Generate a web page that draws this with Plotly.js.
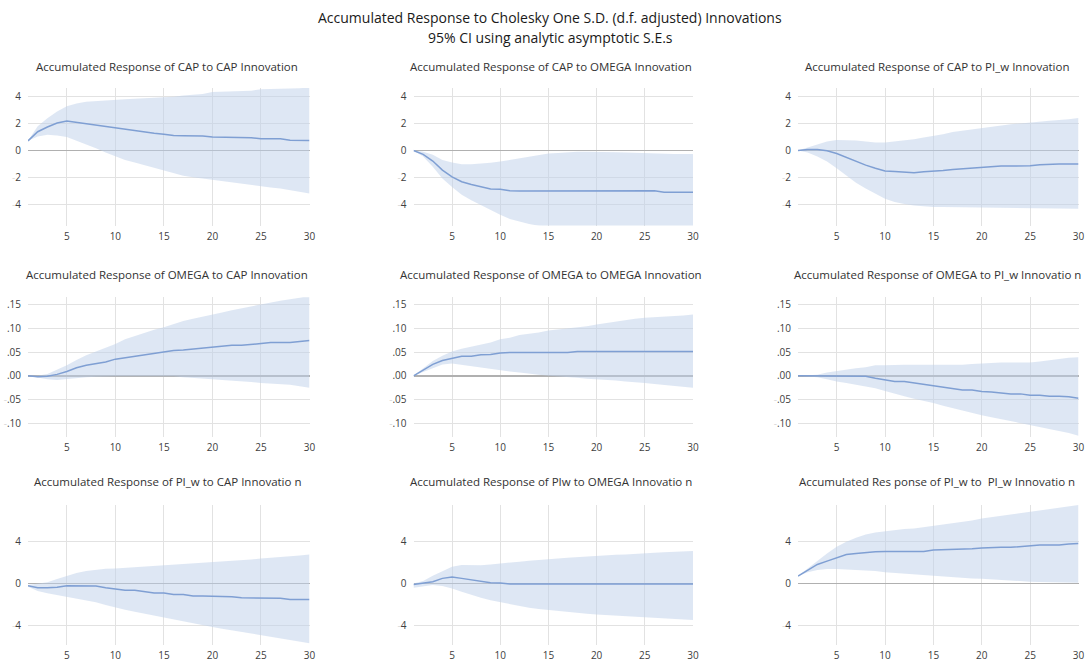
<!DOCTYPE html>
<html>
<head>
<meta charset="utf-8">
<script src="https://cdn.plot.ly/plotly-3.0.1.min.js"></script>
<style>html,body{margin:0;padding:0;background:#fff;}#chart{width:1089px;height:665px;}</style>
</head>
<body>
<div id="chart"></div>
<script>
// Periods
const periods = Array.from({length: 30}, (_, i) => i + 1);

// Panel titles
const panelTitles = [
  "Accumulated Response of CAP to CAP Innovation",
  "Accumulated Response of CAP to OMEGA Innovation",
  "Accumulated Response of CAP to PI_w Innovation",
  "Accumulated Response of OMEGA to CAP Innovation",
  "Accumulated Response of OMEGA to OMEGA Innovation",
  "Accumulated Response of OMEGA to PI_w Innovatio n",
  "Accumulated Response of PI_w to CAP Innovatio n",
  "Accumulated Response of PIw to OMEGA Innovatio n",
  "Accumulated Res ponse of PI_w to  PI_w Innovatio n"
];

// CAP to CAP
const capCap = [0.72,1.4,1.75,2.05,2.2,2.1,2.0,1.9,1.8,1.68,1.55,1.47,1.38,1.28,1.22,1.12,1.1,1.1,1.08,1.0,1.0,1.0,0.98,0.95,0.88,0.88,0.87,0.77,0.77,0.75];
const capCapHi = [0.72,1.8,2.4,2.9,3.3,3.5,3.62,3.68,3.72,3.8,3.82,3.85,3.88,3.9,3.98,4.0,4.1,4.15,4.2,4.35,4.37,4.4,4.42,4.45,4.55,4.56,4.62,4.62,4.63,4.7];
const capCapLo = [0.72,1.05,1.18,1.12,1.0,0.72,0.48,0.18,-0.15,-0.45,-0.7,-0.88,-1.08,-1.3,-1.5,-1.7,-1.88,-1.98,-2.08,-2.2,-2.3,-2.38,-2.48,-2.58,-2.7,-2.75,-2.82,-2.95,-3.05,-3.2];

// CAP to OMEGA
const capOmega = [0,-0.28,-0.78,-1.45,-1.95,-2.32,-2.52,-2.68,-2.85,-2.88,-2.98,-3.0,-3.0,-3.0,-3.0,-3.0,-3.0,-3.0,-3.0,-3.0,-3.0,-3.0,-3.0,-3.0,-3.0,-2.98,-3.1,-3.1,-3.1,-3.1];
const capOmegaHi = [0,-0.08,-0.32,-0.7,-0.88,-1.02,-1.02,-0.98,-0.9,-0.82,-0.7,-0.58,-0.45,-0.32,-0.22,-0.18,-0.12,-0.08,-0.08,-0.08,-0.1,-0.12,-0.15,-0.18,-0.2,-0.22,-0.25,-0.25,-0.25,-0.25];
const capOmegaLo = [0,-0.45,-1.2,-2.08,-2.7,-3.28,-3.7,-4.08,-4.45,-4.78,-5.08,-5.28,-5.45,-5.58,-5.68,-5.72,-5.75,-5.75,-5.75,-5.75,-5.75,-5.75,-5.75,-5.75,-5.75,-5.75,-5.75,-5.75,-5.75,-5.75];

// CAP to PI_w
const capPiw = [0,0.08,0.08,-0.02,-0.22,-0.52,-0.82,-1.08,-1.32,-1.52,-1.55,-1.62,-1.65,-1.58,-1.55,-1.48,-1.4,-1.35,-1.3,-1.22,-1.2,-1.15,-1.15,-1.15,-1.12,-1.05,-1.0,-1.0,-1.0,-1.0];
const capPiwHi = [0,0.22,0.48,0.68,0.78,0.78,0.75,0.68,0.6,0.6,0.68,0.75,0.85,0.98,1.08,1.22,1.38,1.48,1.58,1.68,1.78,1.88,1.95,2.02,2.1,2.18,2.22,2.28,2.32,2.42];
const capPiwLo = [0,-0.15,-0.45,-0.82,-1.32,-1.88,-2.4,-2.82,-3.2,-3.58,-3.82,-3.98,-4.08,-4.15,-4.2,-4.2,-4.21,-4.22,-4.23,-4.24,-4.25,-4.25,-4.26,-4.27,-4.28,-4.28,-4.3,-4.3,-4.31,-4.32];

// OMEGA to CAP
const omegaCap = [0,-0.002,-0.001,0.003,0.009,0.017,0.022,0.025,0.029,0.035,0.038,0.041,0.043,0.046,0.05,0.053,0.054,0.056,0.057,0.059,0.062,0.064,0.064,0.066,0.067,0.07,0.07,0.07,0.072,0.074];
const omegaCapHi = [0,0,0.004,0.013,0.022,0.033,0.043,0.051,0.059,0.067,0.077,0.084,0.091,0.097,0.102,0.109,0.115,0.12,0.124,0.129,0.133,0.138,0.142,0.146,0.151,0.155,0.158,0.161,0.164,0.169];
const omegaCapLo = [0,-0.004,-0.007,-0.009,-0.007,-0.004,-0.003,-0.002,-0.001,-0.001,-0.001,-0.001,-0.001,-0.001,-0.001,-0.001,-0.003,-0.004,-0.006,-0.007,-0.009,-0.01,-0.012,-0.013,-0.015,-0.016,-0.017,-0.019,-0.022,-0.025];

// OMEGA to OMEGA
const omegaOmega = [0,0.012,0.024,0.032,0.037,0.041,0.041,0.044,0.045,0.048,0.049,0.049,0.049,0.049,0.049,0.049,0.049,0.051,0.051,0.051,0.051,0.051,0.051,0.051,0.051,0.051,0.051,0.051,0.051,0.051];
const omegaOmegaHi = [0,0.015,0.031,0.042,0.051,0.057,0.061,0.066,0.07,0.077,0.08,0.086,0.088,0.091,0.095,0.097,0.099,0.101,0.104,0.108,0.111,0.115,0.117,0.12,0.122,0.123,0.125,0.126,0.127,0.129];
const omegaOmegaLo = [0,0.008,0.017,0.024,0.026,0.023,0.02,0.017,0.014,0.012,0.009,0.007,0.004,0.002,0,-0.001,-0.003,-0.004,-0.006,-0.007,-0.009,-0.01,-0.012,-0.013,-0.015,-0.017,-0.019,-0.021,-0.023,-0.025];

// OMEGA to PI_w
const omegaPiw = [0,0,0,-0.001,-0.001,-0.001,-0.001,-0.001,-0.005,-0.008,-0.012,-0.012,-0.015,-0.017,-0.021,-0.024,-0.027,-0.03,-0.03,-0.033,-0.034,-0.036,-0.038,-0.038,-0.041,-0.041,-0.043,-0.043,-0.044,-0.047];
const omegaPiwHi = [0,0.001,0.002,0.007,0.01,0.014,0.016,0.018,0.022,0.022,0.023,0.023,0.023,0.023,0.023,0.023,0.023,0.023,0.025,0.026,0.028,0.028,0.028,0.028,0.028,0.03,0.033,0.036,0.038,0.039];
const omegaPiwLo = [0,-0.001,-0.003,-0.007,-0.012,-0.015,-0.019,-0.022,-0.026,-0.032,-0.038,-0.043,-0.048,-0.052,-0.057,-0.063,-0.068,-0.074,-0.079,-0.083,-0.087,-0.091,-0.096,-0.099,-0.103,-0.107,-0.112,-0.116,-0.12,-0.126];

// PI_w to CAP
const piwCap = [-0.22,-0.42,-0.42,-0.38,-0.22,-0.22,-0.26,-0.26,-0.42,-0.54,-0.67,-0.67,-0.8,-0.93,-0.93,-1.06,-1.06,-1.22,-1.22,-1.22,-1.22,-1.28,-1.38,-1.38,-1.38,-1.4,-1.44,-1.54,-1.54,-1.54];
const piwCapHi = [-0.16,-0.03,0.1,0.42,0.74,0.99,1.18,1.31,1.41,1.44,1.5,1.57,1.6,1.66,1.7,1.76,1.82,1.89,1.95,2.02,2.08,2.18,2.24,2.3,2.4,2.46,2.56,2.62,2.69,2.78];
const piwCapLo = [-0.32,-0.74,-0.96,-1.12,-1.28,-1.44,-1.6,-1.82,-2.08,-2.34,-2.53,-2.72,-2.91,-3.1,-3.3,-3.49,-3.68,-3.87,-4.03,-4.19,-4.35,-4.51,-4.67,-4.83,-4.99,-5.15,-5.31,-5.47,-5.6,-5.76];

// PI_w to OMEGA
const piwOmega = [-0.1,0,0.16,0.48,0.61,0.48,0.32,0.16,0.06,0.03,-0.06,-0.06,-0.06,-0.06,-0.06,-0.06,-0.06,-0.06,-0.06,-0.06,-0.06,-0.06,-0.06,-0.06,-0.06,-0.06,-0.06,-0.06,-0.06,-0.06];
const piwOmegaHi = [0,0.22,0.74,1.18,1.6,1.76,1.76,1.73,1.82,1.89,1.98,2.08,2.18,2.27,2.34,2.4,2.46,2.53,2.59,2.66,2.72,2.75,2.78,2.85,2.91,2.94,2.98,3.0,3.07,3.1];
const piwOmegaLo = [-0.42,-0.26,-0.16,-0.26,-0.48,-0.8,-1.12,-1.38,-1.63,-1.82,-2.02,-2.18,-2.34,-2.46,-2.56,-2.66,-2.75,-2.82,-2.91,-2.98,-3.04,-3.1,-3.14,-3.2,-3.26,-3.3,-3.33,-3.39,-3.46,-3.52];

// PI_w to PI_w
const piwPiw = [0.7,1.28,1.82,2.14,2.46,2.78,2.88,2.98,3.04,3.07,3.07,3.07,3.07,3.07,3.2,3.23,3.23,3.23,3.33,3.39,3.46,3.46,3.46,3.55,3.65,3.68,3.68,3.68,3.78,3.84];
const piwPiwHi = [0.7,1.44,2.14,2.88,3.52,4.0,4.38,4.7,4.9,5.02,5.15,5.22,5.28,5.41,5.54,5.66,5.76,5.92,6.05,6.24,6.37,6.5,6.62,6.75,6.88,7.07,7.2,7.33,7.46,7.52];
const piwPiwLo = [0.7,1.06,1.28,1.38,1.38,1.34,1.31,1.28,1.18,1.06,0.99,0.93,0.86,0.8,0.7,0.64,0.58,0.54,0.48,0.45,0.38,0.32,0.26,0.19,0.16,0.13,0.1,0.06,0.06,0.06];

// Axis tick values and labels per row
const xTickVals = [5, 10, 15, 20, 25, 30];
const xTickText = ["5", "10", "15", "20", "25", "30"];
const row1TickVals = [4, 2, 0, -2, -4];
const row1TickText = ["4", "2", "0", "<span style='color:#d8d8d8'>-</span>2", "<span style='color:#d8d8d8'>-</span>4"];
const row2TickVals = [0.15, 0.10, 0.05, 0.00, -0.05, -0.10];
const row2TickText = [".15", ".10", ".05", ".00", "<span style='color:#d8d8d8'>-</span>.05", "<span style='color:#d8d8d8'>-</span>.10"];
const row3TickVals = [4, 0, -4];
const row3TickText = ["4", "0", "<span style='color:#d8d8d8'>-</span>4"];

const panels = [
  [capCap, capCapHi, capCapLo],
  [capOmega, capOmegaHi, capOmegaLo],
  [capPiw, capPiwHi, capPiwLo],
  [omegaCap, omegaCapHi, omegaCapLo],
  [omegaOmega, omegaOmegaHi, omegaOmegaLo],
  [omegaPiw, omegaPiwHi, omegaPiwLo],
  [piwCap, piwCapHi, piwCapLo],
  [piwOmega, piwOmegaHi, piwOmegaLo],
  [piwPiw, piwPiwHi, piwPiwLo]
];

const W = 1089, H = 665;
const colPx = [[28, 309.5], [413.5, 693], [798, 1078.5]];
const rowPx = [[88, 225.5], [297.3, 436.7], [505, 645]];
const rowRanges = [[-5.57, 4.65], [-0.128, 0.165], [-5.92, 7.53]];
const rowTicks = [[row1TickVals, row1TickText], [row2TickVals, row2TickText], [row3TickVals, row3TickText]];
const titleX = [167, 551, 937];
const titleY = [66, 274, 481.5];

const fillCol = "rgba(190,207,234,0.5)";
const lineCol = "#7f9fd3";
const tickFont = {family: "Open Sans, sans-serif", size: 10, color: "#404040"};

const traces = [];
const layout = {
  width: W, height: H,
  margin: {l: 0, r: 0, t: 0, b: 0},
  paper_bgcolor: "#ffffff",
  plot_bgcolor: "#ffffff",
  showlegend: false,
  annotations: [
    {text: "Accumulated Response to Cholesky One S.D. (d.f. adjusted) Innovations", xref: "paper", yref: "paper",
     x: 550 / W, y: 1 - 17 / H, showarrow: false, xanchor: "center", yanchor: "middle",
     font: {family: "Open Sans, sans-serif", size: 14, color: "#1a1a1a"}},
    {text: "95% CI using analytic asymptotic S.E.s", xref: "paper", yref: "paper",
     x: 550 / W, y: 1 - 37 / H, showarrow: false, xanchor: "center", yanchor: "middle",
     font: {family: "Open Sans, sans-serif", size: 14, color: "#1a1a1a"}}
  ]
};

panels.forEach((p, i) => {
  const r = Math.floor(i / 3), c = i % 3;
  const n = i + 1;
  const xa = n === 1 ? "x" : "x" + n;
  const ya = n === 1 ? "y" : "y" + n;
  traces.push({x: periods, y: p[2], xaxis: xa, yaxis: ya, type: "scatter", mode: "lines",
               line: {width: 0, color: fillCol}, hoverinfo: "skip"});
  traces.push({x: periods, y: p[1], xaxis: xa, yaxis: ya, type: "scatter", mode: "lines",
               line: {width: 0, color: fillCol}, fill: "tonexty", fillcolor: fillCol, hoverinfo: "skip"});
  traces.push({x: periods, y: p[0], xaxis: xa, yaxis: ya, type: "scatter", mode: "lines",
               line: {width: 1.5, color: lineCol}});
  const xKey = n === 1 ? "xaxis" : "xaxis" + n;
  const yKey = n === 1 ? "yaxis" : "yaxis" + n;
  layout[xKey] = {
    domain: [colPx[c][0] / W, colPx[c][1] / W],
    anchor: ya, range: [1, 30],
    tickvals: xTickVals, ticktext: xTickText,
    showgrid: true, gridcolor: "#e2e2e2", gridwidth: 1,
    zeroline: false, showline: false, ticks: "",
    tickfont: tickFont, ticklabelstandoff: 3
  };
  layout[yKey] = {
    domain: [1 - rowPx[r][1] / H, 1 - rowPx[r][0] / H],
    anchor: xa, range: rowRanges[r],
    tickvals: rowTicks[r][0], ticktext: rowTicks[r][1],
    showgrid: true, gridcolor: "#e2e2e2", gridwidth: 1,
    zeroline: true, zerolinecolor: "#b0b0b0", zerolinewidth: 1.5,
    showline: false, ticks: "",
    tickfont: tickFont, ticklabelstandoff: 6
  };
  layout.annotations.push({
    text: panelTitles[i], xref: "paper", yref: "paper",
    x: titleX[c] / W, y: 1 - titleY[r] / H, showarrow: false,
    xanchor: "center", yanchor: "middle",
    font: {family: "Open Sans, sans-serif", size: 11.5, color: "#333333"}
  });
});

Plotly.newPlot("chart", traces, layout, {displayModeBar: false, staticPlot: true});
</script>
</body>
</html>
